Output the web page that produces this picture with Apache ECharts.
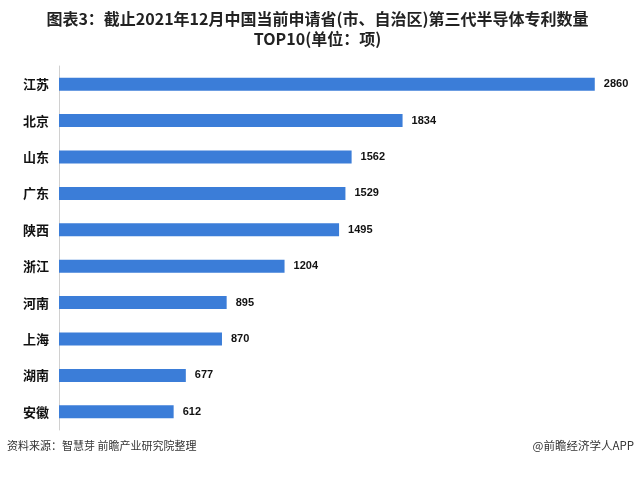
<!DOCTYPE html>
<html>
<head>
<meta charset="utf-8">
<script src="https://cdn.jsdelivr.net/npm/echarts@6/dist/echarts.min.js"></script>
<style>
  html, body { margin: 0; padding: 0; background: #fff; }
  #chart { width: 635px; height: 479px; }
</style>
</head>
<body>
<div id="chart"></div>
<script>
// 省份（从上到下）
const provinces = ['江苏', '北京', '山东', '广东', '陕西', '浙江', '河南', '上海', '湖南', '安徽']
// 专利数量（项）
const patents = [2860, 1834, 1562, 1529, 1495, 1204, 895, 870, 677, 612]

const chart = echarts.init(document.getElementById('chart'))
const cjk = '"Noto Sans CJK SC", sans-serif'
const titleStyle = {
  fontFamily: cjk,
  fontSize: 16,
  fontWeight: 'bold',
  color: '#222'
}

chart.setOption({
  animation: false,
  title: [
    {
      text: '图表3：截止2021年12月中国当前申请省(市、自治区)第三代半导体专利数量',
      left: 'center',
      top: 11,
      padding: 0,
      textStyle: titleStyle
    },
    {
      text: 'TOP10(单位：项)',
      left: 'center',
      top: 31,
      padding: 0,
      textStyle: titleStyle
    },
    {
      text: '资料来源：智慧芽 前瞻产业研究院整理',
      left: 7,
      top: 440,
      padding: 0,
      textStyle: { fontFamily: cjk, fontSize: 11, fontWeight: 'normal', color: '#333' }
    },
    {
      text: '@前瞻经济学人APP',
      right: 1,
      top: 440,
      padding: 0,
      textStyle: { fontFamily: cjk, fontSize: 11.5, fontWeight: 'normal', color: '#333' }
    }
  ],
  grid: {
    left: 59,
    top: 66,
    width: 562,
    height: 364
  },
  xAxis: {
    type: 'value',
    min: 0,
    max: 3000,
    axisLabel: { show: false },
    axisLine: { show: false },
    axisTick: { show: false },
    splitLine: { show: false }
  },
  yAxis: {
    type: 'category',
    inverse: true,
    data: provinces,
    axisTick: { show: false },
    axisLine: { show: true, lineStyle: { color: '#d0d0d0' } },
    axisLabel: {
      fontFamily: cjk,
      fontSize: 13,
      fontWeight: 'bold',
      color: '#111',
      margin: 10
    }
  },
  series: [
    {
      type: 'bar',
      data: patents,
      barWidth: 13,
      itemStyle: { color: '#3b7dd8' },
      label: {
        show: true,
        position: 'right',
        distance: 9,
        fontFamily: '"Liberation Sans", sans-serif',
        fontSize: 11,
        fontWeight: 'bold',
        color: '#111'
      }
    }
  ]
})
</script>
</body>
</html>
